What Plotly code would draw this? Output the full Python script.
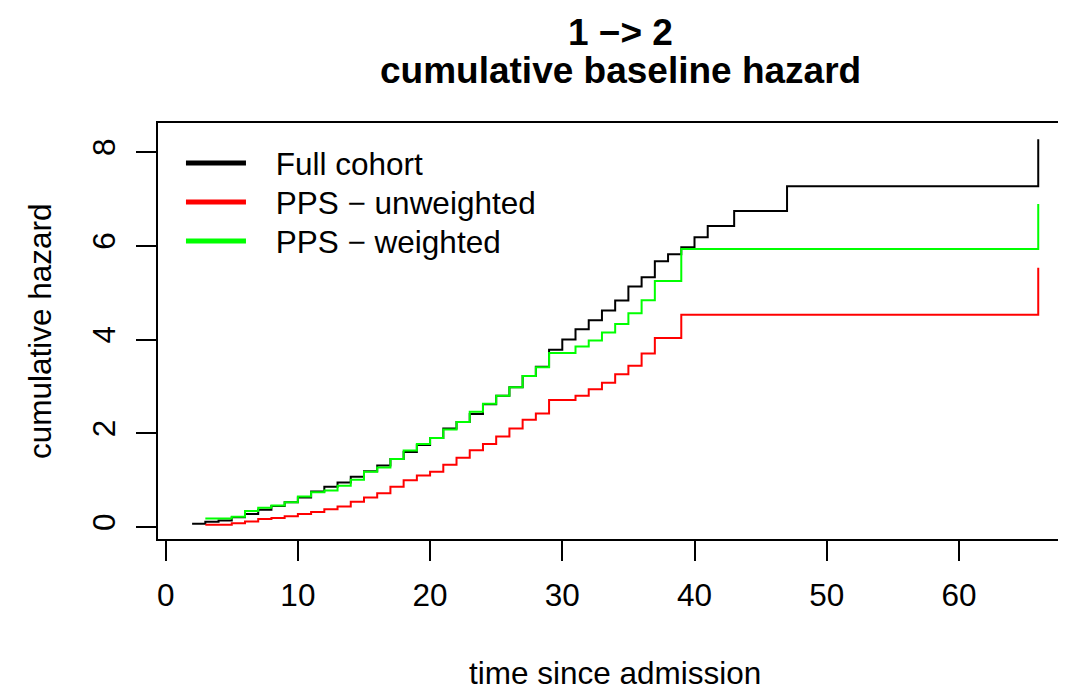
import plotly.graph_objects as go

# ---- data ----
full_t = list(range(2, 42)) + [43, 47, 66]
full_h = [0.07, 0.11, 0.14, 0.21, 0.28, 0.37, 0.45, 0.53, 0.63, 0.76,
          0.86, 0.95, 1.07, 1.19, 1.31, 1.45, 1.60, 1.75, 1.90, 2.10,
          2.24, 2.41, 2.62, 2.80, 2.98, 3.22, 3.42, 3.78, 4.00, 4.22,
          4.41, 4.62, 4.83, 5.13, 5.33, 5.67, 5.82, 5.97, 6.18, 6.42,
          6.74, 7.27, 8.27]

unw_t = list(range(3, 38)) + [39, 66]
unw_h = [0.05, 0.05, 0.08, 0.12, 0.17, 0.19, 0.23, 0.28, 0.32, 0.38,
         0.44, 0.54, 0.63, 0.72, 0.86, 1.00, 1.10, 1.18, 1.33, 1.48,
         1.64, 1.77, 1.93, 2.10, 2.29, 2.42, 2.71, 2.71, 2.80, 2.94,
         3.08, 3.26, 3.44, 3.70, 4.03, 4.53, 5.53]

w_t = list(range(3, 38)) + [39, 66]
w_h = [0.18, 0.18, 0.22, 0.34, 0.41, 0.46, 0.53, 0.65, 0.74, 0.78,
       0.88, 1.01, 1.18, 1.27, 1.45, 1.63, 1.77, 1.90, 2.08, 2.24,
       2.46, 2.63, 2.80, 2.98, 3.22, 3.41, 3.71, 3.71, 3.85, 3.98,
       4.15, 4.33, 4.56, 4.84, 5.25, 5.93, 6.89]

series_names = ["Full cohort", "PPS \u2212 unweighted", "PPS \u2212 weighted"]
series_colors = ["#000000", "#FF0000", "#00FF00"]

x_ticks = [0, 10, 20, 30, 40, 50, 60]
y_ticks = [0, 2, 4, 6, 8]

title_lines = ["1 \u2212> 2", "cumulative baseline hazard"]
x_title = "time since admission"
y_title = "cumulative hazard"

FONT = "Liberation Sans, Arial, Helvetica, sans-serif"
BASE = 31.5
GAP = "\u2002\u2009\u200a"  # spacing between legend line and label, as in R

fig = go.Figure()
for t, h, c in zip([full_t, unw_t, w_t], [full_h, unw_h, w_h], series_colors):
    fig.add_trace(go.Scatter(x=t, y=h, mode="lines", line=dict(color=c, width=2, shape="hv"),
                             showlegend=False, hoverinfo="x+y"))

# legend-only entries (thicker lines, as in the R legend), one legend per row
legend_ids = ["legend", "legend2", "legend3"]
legend_y = [0.9038, 0.8101, 0.7163]
for name, c, lid in zip(series_names, series_colors, legend_ids):
    fig.add_trace(go.Scatter(x=[None], y=[None], mode="lines", name=GAP + name,
                             line=dict(color=c, width=5), legend=lid))

legend_common = dict(x=0.0253, xanchor="left", yanchor="middle",
                     bgcolor="rgba(0,0,0,0)", font=dict(size=BASE, family=FONT),
                     itemwidth=60, borderwidth=0)

fig.update_layout(
    width=1058, height=683,
    margin=dict(l=150, r=0, t=115, b=152),
    paper_bgcolor="white", plot_bgcolor="white",
    font=dict(family=FONT, size=BASE, color="black"),
    showlegend=True,
    legend=dict(y=legend_y[0], **legend_common),
    legend2=dict(y=legend_y[1], **legend_common),
    legend3=dict(y=legend_y[2], **legend_common),
    xaxis=dict(range=[-0.58, 68.1], tickvals=x_ticks, ticktext=[str(v) for v in x_ticks],
               showgrid=False, zeroline=False, showline=True, mirror=True,
               linecolor="black", linewidth=2, ticks="outside", ticklen=20,
               tickwidth=2, tickcolor="black", tickfont=dict(size=BASE),
               ticklabelstandoff=7),
    yaxis=dict(range=[-0.256, 8.619], tickvals=y_ticks, ticktext=[str(v) for v in y_ticks],
               showgrid=False, zeroline=False, showline=True,
               linecolor="black", linewidth=2, ticks="outside", ticklen=20,
               tickwidth=2, tickcolor="black", tickangle=-90, tickfont=dict(size=BASE),
               ticklabelstandoff=8),
)

# titles
fig.add_annotation(text="<b>%s</b>" % title_lines[0], xref="paper", yref="paper",
                   x=0.509, y=1, yshift=91, xanchor="center", yanchor="middle",
                   showarrow=False, font=dict(size=37, family=FONT))
fig.add_annotation(text="<b>%s</b>" % title_lines[1], xref="paper", yref="paper",
                   x=0.509, y=1, yshift=53, xanchor="center", yanchor="middle",
                   showarrow=False, font=dict(size=37, family=FONT))
fig.add_annotation(text=x_title, xref="paper", yref="paper", x=0.503, y=0, yshift=-134,
                   xanchor="center", yanchor="middle", showarrow=False,
                   font=dict(size=BASE, family=FONT))
fig.add_annotation(text=y_title, xref="paper", yref="paper", x=0, y=0.5, xshift=-118,
                   xanchor="center", yanchor="middle", textangle=-90, showarrow=False,
                   font=dict(size=BASE, family=FONT))

fig.write_html("out.html")
